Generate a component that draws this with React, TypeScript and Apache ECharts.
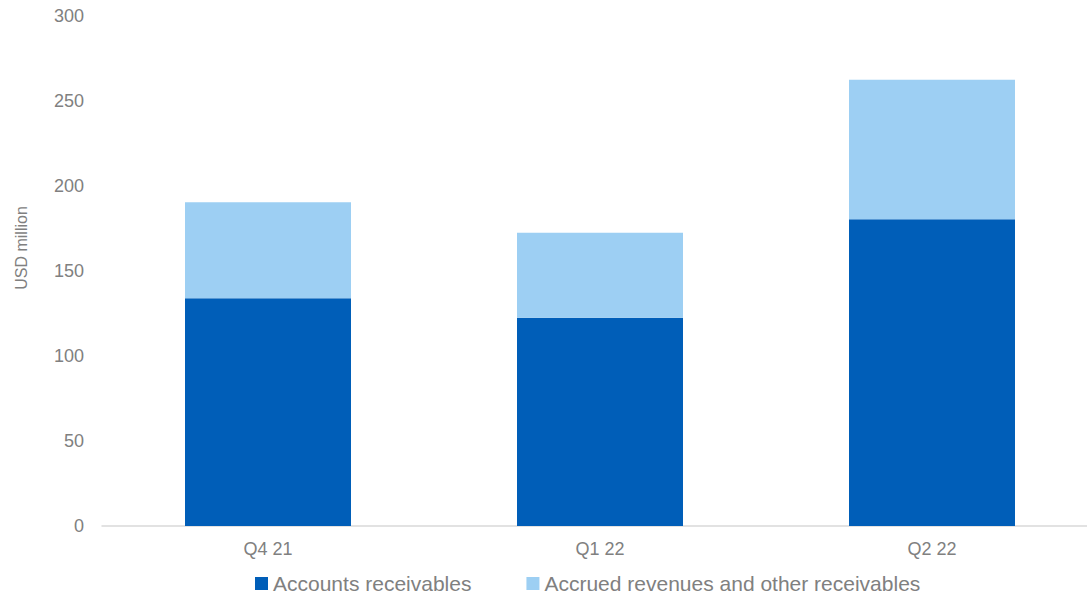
import React, { useEffect, useRef } from "react";
import * as echarts from "echarts";

const categories = ["Q4 21", "Q1 22", "Q2 22"];
const accountsReceivables = [134, 122.5, 180.5];
const accruedRevenues = [56.5, 50, 82];
const seriesNames = ["Accounts receivables", "Accrued revenues and other receivables"];
const yAxisTitle = "USD million";

export default function App() {
  const ref = useRef<HTMLDivElement>(null);
  useEffect(() => {
    if (!ref.current) return;
    const chart = echarts.init(ref.current, null, { renderer: "svg" });
    const textColor = "#808080";
    chart.setOption({
      animation: false,
      textStyle: { fontFamily: "Liberation Sans, Arial, sans-serif" },
      grid: { left: 102, top: 16, width: 996, height: 510 },
      legend: {
        left: 250,
        top: 568,
        itemWidth: 13,
        itemHeight: 13,
        itemGap: 55,
        icon: "rect",
        textStyle: { color: textColor, fontSize: 21, fontFamily: "Liberation Sans, Arial, sans-serif" },
        data: seriesNames,
      },
      graphic: [
        {
          type: "text",
          x: 21,
          y: 248,
          rotation: Math.PI / 2,
          style: {
            text: yAxisTitle,
            fill: textColor,
            fontSize: 16,
            fontFamily: "Liberation Sans, Arial, sans-serif",
            align: "center",
            verticalAlign: "middle",
          },
        },
      ],
      xAxis: {
        type: "category",
        data: categories,
        axisLine: { show: true, lineStyle: { color: "#D9D9D9", width: 1.5 } },
        axisTick: { show: false },
        axisLabel: { color: textColor, fontSize: 18, margin: 14 },
      },
      yAxis: {
        type: "value",
        min: 0,
        max: 300,
        interval: 50,
        splitLine: { show: false },
        axisLine: { show: false },
        axisTick: { show: false },
        axisLabel: { color: textColor, fontSize: 18, margin: 18 },
      },
      series: [
        {
          name: seriesNames[0],
          type: "bar",
          stack: "total",
          barWidth: 166,
          data: accountsReceivables,
          itemStyle: { color: "#005EB8" },
        },
        {
          name: seriesNames[1],
          type: "bar",
          stack: "total",
          barWidth: 166,
          data: accruedRevenues,
          itemStyle: { color: "#9DCFF3" },
        },
      ],
    });
    return () => chart.dispose();
  }, []);
  return (
    <div
      ref={ref}
      style={{ position: "fixed", left: 0, top: 0, width: 1100, height: 596, background: "#fff" }}
    />
  );
}
